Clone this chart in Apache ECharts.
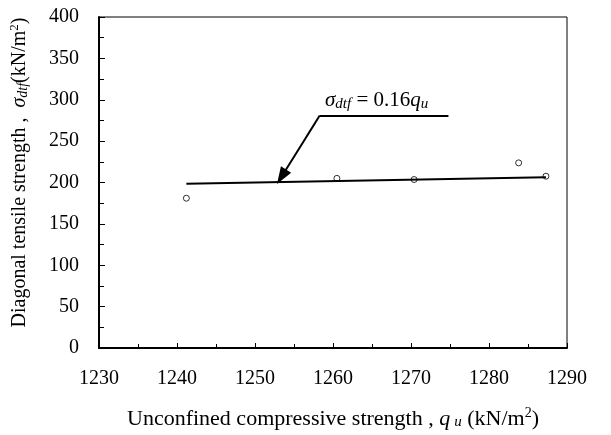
<!DOCTYPE html>
<html>
<head>
<meta charset="utf-8">
<script src="https://cdn.jsdelivr.net/npm/echarts@6/dist/echarts.min.js"></script>
<style>
  html, body { margin: 0; padding: 0; background: #fff; }
  #chart { width: 611px; height: 435px; }
</style>
</head>
<body>
<div id="chart"></div>
<script>
// measured points (qu, sigma_dtf)
var quValues = [1241.2, 1260.5, 1270.4, 1283.8, 1287.3];
var sigmaValues = [181, 205, 203.6, 223.7, 207.6];
// fitted line sigma = 0.16 qu, drawn between first and last point
var fitLine = [[1241.2, 198.6], [1287.3, 206.4]];
// leader line for the equation label: end of bar, corner, arrow tip
var leader = [[1274.8, 281], [1258.3, 281], [1253.4, 207]];
var xTicks = [1230, 1290, 10];
var yTicks = [0, 400, 50];

var font = 'Liberation Serif';

var points = [];
for (var i = 0; i < quValues.length; i++) {
  points.push([quValues[i], sigmaValues[i]]);
}

var myChart = echarts.init(document.getElementById('chart'));
var option = {
  backgroundColor: '#fff',
  animation: false,
  grid: {
    left: 99, right: 44, top: 17, bottom: 86,
    show: true, borderColor: '#000', borderWidth: 1
  },
  xAxis: {
    type: 'value',
    min: xTicks[0], max: xTicks[1], interval: xTicks[2],
    splitLine: { show: false },
    axisLine: { onZero: false, lineStyle: { color: '#000', width: 2 } },
    axisTick: { inside: true, length: 5, lineStyle: { color: '#000' } },
    minorTick: { show: true, splitNumber: 2, length: 4, lineStyle: { color: '#000' } },
    axisLabel: {
      margin: 21, color: '#000', fontFamily: font, fontSize: 20,
      formatter: function (v) { return String(v); }
    },
    name: '{t|Unconfined compressive strength , }{i|q}{s|u}{t| (kN/m}{sup|2}{t|)}',
    nameLocation: 'middle',
    nameGap: 58,
    nameTextStyle: {
      rich: {
        t: { fontFamily: font, fontSize: 22, color: '#000' },
        i: { fontFamily: font, fontSize: 22, fontStyle: 'italic', color: '#000', padding: [0, 4, 0, 0] },
        s: { fontFamily: font, fontSize: 15, fontStyle: 'italic', color: '#000', padding: [7, 0, 0, 0] },
        sup: { fontFamily: font, fontSize: 14, color: '#000', padding: [0, 0, 12, 0] }
      }
    }
  },
  yAxis: {
    type: 'value',
    min: yTicks[0], max: yTicks[1], interval: yTicks[2],
    splitLine: { show: false },
    axisLine: { onZero: false, lineStyle: { color: '#000', width: 2 } },
    axisTick: { inside: true, length: 6, lineStyle: { color: '#000' } },
    minorTick: { show: true, splitNumber: 2, length: 5, lineStyle: { color: '#000' } },
    axisLabel: { margin: 20, color: '#000', fontFamily: font, fontSize: 20 },
    name: '{f|Diagonal tensile strength ,  }{i|σ}{s|dtf}{t|(kN/m}{sup|2}{t|)}',
    nameLocation: 'middle',
    nameGap: 67,
    nameTextStyle: {
      rich: {
        f: { fontFamily: font, fontSize: 20, color: '#000', padding: [0, 0, 0, 20] },
        t: { fontFamily: font, fontSize: 20, color: '#000' },
        i: { fontFamily: font, fontSize: 20, fontStyle: 'italic', color: '#000' },
        s: { fontFamily: font, fontSize: 14, fontStyle: 'italic', color: '#000', padding: [6, 0, 0, 0] },
        sup: { fontFamily: font, fontSize: 13, color: '#000', padding: [0, 0, 11, 0] }
      }
    }
  },
  graphic: [{
    type: 'text',
    left: 325, top: 90,
    style: {
      text: '{i|σ}{s|dtf}{t| = 0.16}{i|q}{s|u}',
      rich: {
        t: { fontFamily: font, fontSize: 21, fill: '#000' },
        i: { fontFamily: font, fontSize: 21, fontStyle: 'italic', fill: '#000' },
        s: { fontFamily: font, fontSize: 15, fontStyle: 'italic', fill: '#000', padding: [7, 0, 0, 0] }
      }
    }
  }],
  series: [
    {
      type: 'line',
      data: fitLine,
      showSymbol: false,
      symbol: 'none',
      lineStyle: { color: '#000', width: 2 },
      silent: true,
      z: 2,
      markLine: {
        silent: true,
        animation: false,
        label: { show: false },
        lineStyle: { color: '#000', width: 2, type: 'solid' },
        data: [
          [
            { coord: leader[0], symbol: 'none' },
            { coord: leader[1], symbol: 'none' }
          ],
          [
            { coord: leader[1], symbol: 'none' },
            { coord: leader[2], symbol: 'triangle', symbolSize: [12, 17] }
          ]
        ]
      }
    },
    {
      type: 'scatter',
      data: points,
      symbol: 'circle',
      symbolSize: 6,
      itemStyle: { color: 'transparent', borderColor: '#000', borderWidth: 1 },
      z: 3
    }
  ]
};
myChart.setOption(option);
</script>
</body>
</html>
